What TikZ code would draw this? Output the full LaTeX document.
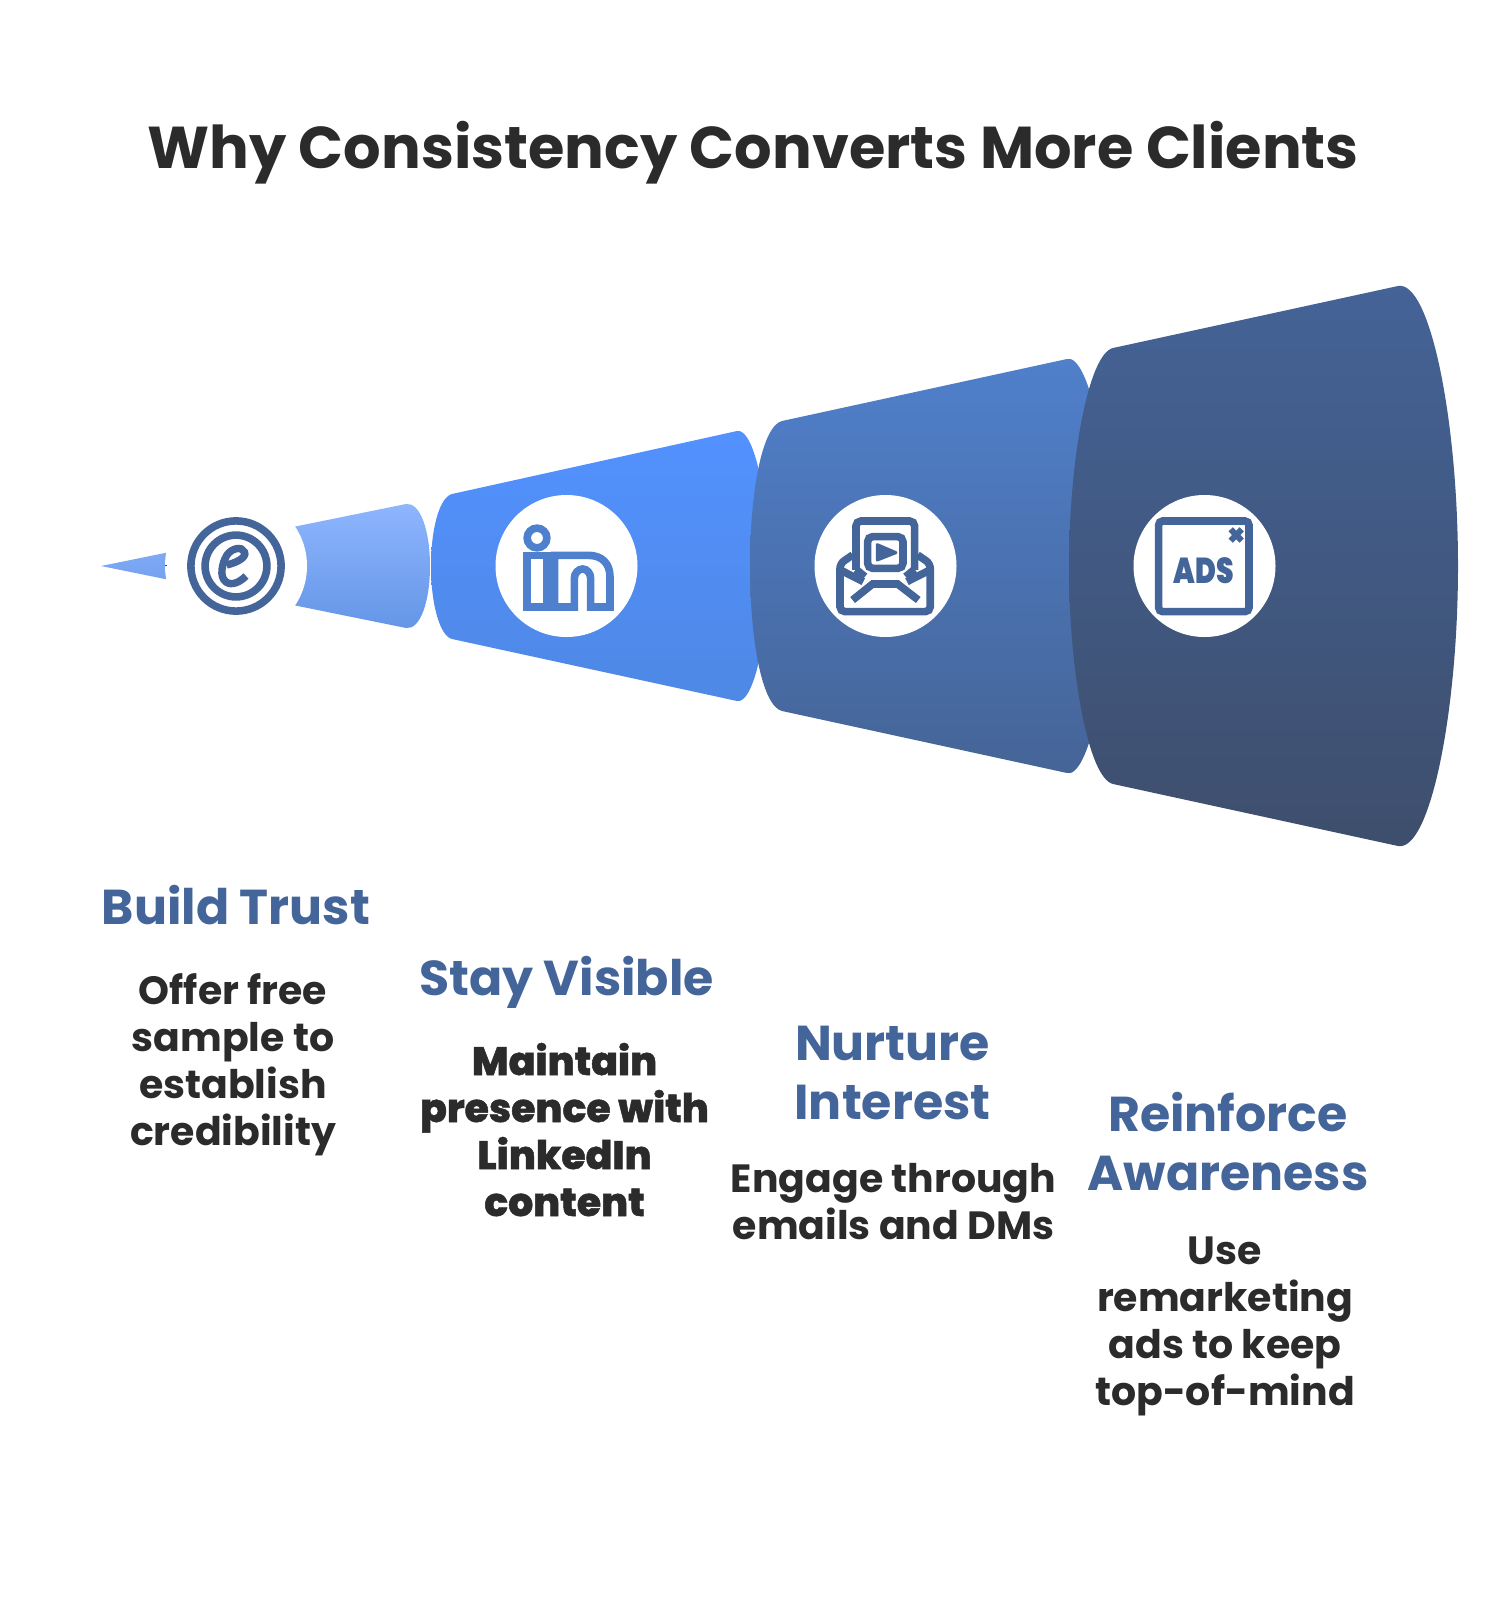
\documentclass[tikz,border=0pt]{standalone}
\usepackage{fontspec}
\setmainfont{Poppins}
\newfontfamily\heavyfont[FakeBold=1.2]{Poppins ExtraBold}
\newfontfamily\blackfont{Poppins Black}
\definecolor{inkdark}{HTML}{2B2B2B}
\definecolor{iconblue}{HTML}{44659A}
\definecolor{linkblue}{HTML}{4F80CE}
\definecolor{trusttop}{HTML}{8FB6FF}
\definecolor{trustlow}{HTML}{6495E6}
\definecolor{staytop}{HTML}{5291FF}
\definecolor{staylow}{HTML}{4F88E4}
\definecolor{nurturetop}{HTML}{5080CC}
\definecolor{nurturelow}{HTML}{456496}
\definecolor{adstop}{HTML}{446397}
\definecolor{adslow}{HTML}{3E4E6C}
\begin{document}
\begin{tikzpicture}[x=1pt,y=-1pt,node distance=319pt,
    disc node/.style={circle,fill=white,inner sep=0pt,minimum size=142pt},
    head node/.style={anchor=base,align=center,text=iconblue,font=\fontsize{49}{59}\selectfont\bfseries},
    body node/.style={anchor=base,align=center,text=inkdark,font=\fontsize{39.4}{47}\selectfont\bfseries},
    icon line/.style={draw=iconblue,line width=7.6pt}]
    \useasboundingbox (0,0) rectangle (1505,1600);

    \node[anchor=base,text=inkdark,font=\fontsize{59}{60}\selectfont\bfseries] (title) at (753,168.5) {Why Consistency Converts More Clients};

    % cone pieces, back to front
    \shade[top color=trusttop,bottom color=trustlow]
        (101,566) -- (406,504) .. controls (420,502) and (430,530) .. (430,566) .. controls (430,602) and (420,630) .. (406,628) -- cycle;
    \shade[top color=staytop,bottom color=staylow]
        (452,494) -- (737,431) .. controls (753,428) and (768,490) .. (768,566) .. controls (768,642) and (753,704) .. (737,701) -- (452,639) .. controls (440,636) and (431,605) .. (431,566) .. controls (431,527) and (440,497) .. (452,494) -- cycle;
    \shade[top color=nurturetop,bottom color=nurturelow]
        (782,421) -- (1067,359) .. controls (1088,354) and (1110,450) .. (1110,566) .. controls (1110,682) and (1088,778) .. (1067,773) -- (782,711) .. controls (762,706) and (750,640) .. (750,566) .. controls (750,492) and (762,426) .. (782,421) -- cycle;
    \shade[top color=adstop,bottom color=adslow]
        (1113,348) -- (1398,286) .. controls (1430,280) and (1458,420) .. (1458,566) .. controls (1458,712) and (1430,852) .. (1398,846) -- (1113,784) .. controls (1088,778) and (1069,670) .. (1069,566) .. controls (1069,462) and (1088,354) .. (1113,348) -- cycle;

    \node[disc node] (trustdisc) at (236,566) {};
    \node[disc node,right of=trustdisc,node distance=330.5pt] (linkdisc) {};
    \node[disc node,right of=linkdisc] (maildisc) {};
    \node[disc node,right of=maildisc] (adsdisc) {};
    \fill[red!80!blue] (165.2,564.8) rectangle (166.8,566.2);

    % e badge
    \draw[icon line] (trustdisc.center) circle (45.1);
    \draw[icon line] (trustdisc.center) circle (30.9);
    \draw[draw=iconblue,line width=7.4pt] (226.7,565) .. controls (235,563) and (247,558) .. (244.5,552) .. controls (242,546) and (232,548) .. (227,555) .. controls (222,563) and (219,577) .. (226,582) .. controls (232,586) and (240,582) .. (246,576);

    % linkedin mark
    \begin{scope}[shift={(480,470)},x=.3333pt,y=-.3333pt]
        \draw[draw=linkblue,line width=7.6pt] (171,204) circle (29.5);
        \draw[draw=linkblue,line width=7.6pt] (141,256) rectangle (201,411);
        \draw[draw=linkblue,line width=7.6pt] (224,411) -- (283,411) -- (283,325) .. controls (283,310) and (295,297) .. (308,297) .. controls (321,297) and (332,310) .. (332,325) -- (332,411) -- (390,411) -- (390,320) .. controls (390,280) and (365,256) .. (325,256) -- (224,256) -- cycle;
    \end{scope}

    % mail with video
    \begin{scope}[shift={(480,470)},x=.3333pt,y=-.3333pt]
        \draw[icon line,rounded corners=5pt] (1128,300) -- (1128,153) -- (1304,153) -- (1304,300);
        \draw[icon line] (1128,298) -- (1155,320);
        \draw[icon line] (1304,298) -- (1277,320);
        \draw[icon line,rounded corners=5pt] (1163,200) rectangle (1269,295);
        \fill[iconblue,draw=iconblue,line width=3pt,line join=round] (1192,224) -- (1192,270) -- (1248,248) -- cycle;
        \draw[icon line,rounded corners=5pt] (1118,255) -- (1080,281) -- (1080,425) -- (1351,425) -- (1351,281) -- (1313,255);
        \draw[icon line] (1085,302) -- (1150,335);
        \draw[icon line] (1346,302) -- (1281,335);
        \draw[icon line] (1118,390) -- (1178,342) -- (1253,342) -- (1315,390);
    \end{scope}

    % ads box
    \begin{scope}[shift={(1100,480)},x=.3333pt,y=-.3333pt]
        \draw[icon line,rounded corners=4pt] (176,123) rectangle (447,395);
        \node[text=iconblue,font=\fontsize{36}{36}\selectfont\blackfont,inner sep=0pt,xscale=.78] (adstext) at (312,271) {ADS};
        \draw[draw=iconblue,line width=6pt] (392,148) -- (425,182);
        \draw[draw=iconblue,line width=6pt] (425,148) -- (392,182);
    \end{scope}

    \node[head node] (trusthead) at (236,924) {Build Trust};
    \node[body node] (trustbody) at (233,1145) {Offer free\\sample to\\establish\\credibility};
    \node[head node] (stayhead) at (566.5,995) {Stay Visible};
    \node[body node,font=\fontsize{39.4}{47}\selectfont\heavyfont] (staybody) at (564.5,1216) {Maintain\\presence with\\LinkedIn\\content};
    \node[head node] (nurturehead) at (892.5,1119) {Nurture\\Interest};
    \node[body node] (nurturebody) at (893.5,1239.5) {Engage through\\emails and DMs};
    \node[head node] (reinforcehead) at (1228,1190) {Reinforce\\Awareness};
    \node[body node] (reinforcebody) at (1225,1405) {Use\\remarketing\\ads to keep\\top-of-mind};
\end{tikzpicture}
\end{document}
